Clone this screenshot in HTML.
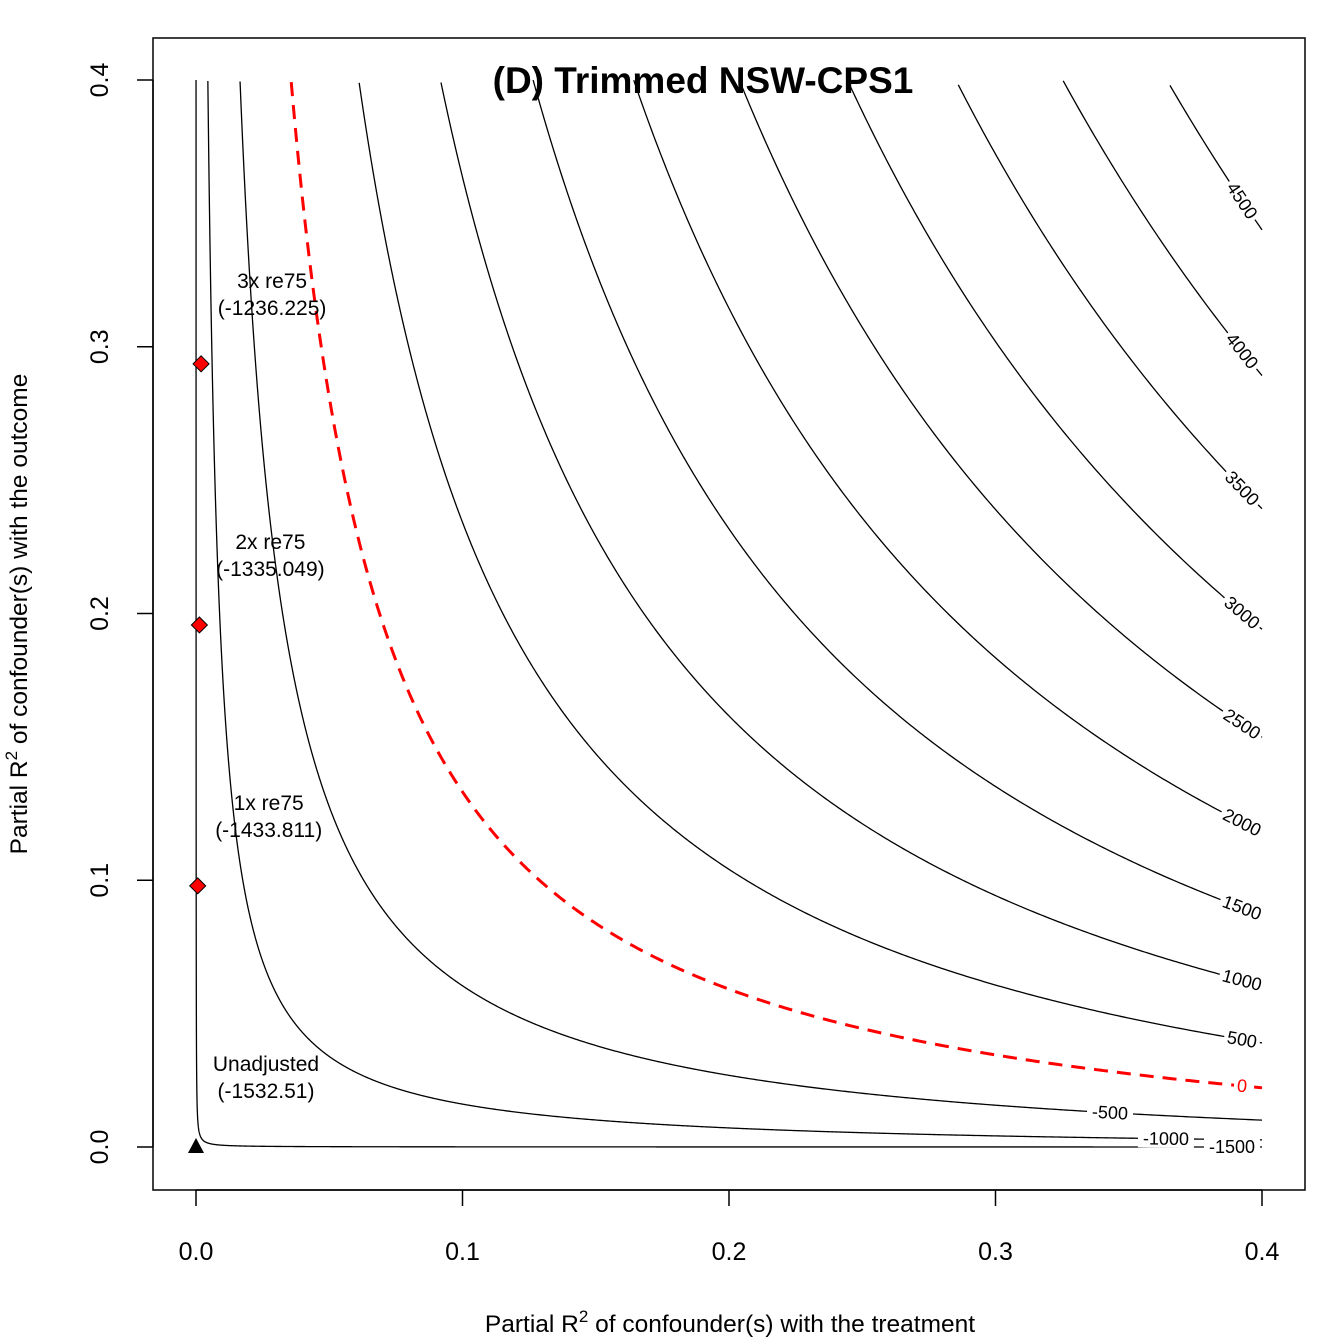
<!DOCTYPE html>
<html><head><meta charset="utf-8"><style>
body{margin:0;background:#fff}
svg{display:block;font-family:"Liberation Sans",Arial,sans-serif}
</style></head><body>
<svg id="chart" width="1344" height="1344" viewBox="0 0 1344 1344">
<rect width="1344" height="1344" fill="#fff"/>
<g id="contours"></g>
<g id="labels"></g>
<g id="points"></g>
<rect x="153" y="38" width="1152" height="1152" fill="none" stroke="#000" stroke-width="1.5"/>
<g id="axes"></g>
<text x="703" y="93" text-anchor="middle" font-size="37" font-weight="bold">(D) Trimmed NSW-CPS1</text>
<text x="730" y="1332" text-anchor="middle" font-size="24.5">Partial R<tspan dy="-10" font-size="17">2</tspan><tspan dy="10"> of confounder(s) with the treatment</tspan></text>
<text transform="translate(27,614) rotate(-90)" text-anchor="middle" font-size="24.5">Partial R<tspan dy="-10" font-size="17">2</tspan><tspan dy="10"> of confounder(s) with the outcome</tspan></text>
</svg>
<script>
const estimate = -1532.51;
const scaleK = 12600;
const levels = [-1500,-1000,-500,0,500,1000,1500,2000,2500,3000,3500,4000,4500];
const xTicks = [0.0,0.1,0.2,0.3,0.4];
const yTicks = [0.0,0.1,0.2,0.3,0.4];
const boundNames = ["1x re75","2x re75","3x re75"];
const boundValues = [-1433.811,-1335.049,-1236.225];
const boundRd = [0.00064,0.00127,0.00191];
const boundRy = [0.0979,0.1957,0.2936];

const NS="http://www.w3.org/2000/svg";
const X=v=>196+v*2665, Y=v=>1147-v*2667.5;
function mk(t,a,p){const e=document.createElementNS(NS,t);for(const k in a)e.setAttribute(k,a[k]);p.appendChild(e);return e;}
const gC=document.getElementById('contours'),gL=document.getElementById('labels'),gP=document.getElementById('points'),gA=document.getElementById('axes');
const ryOf=(L,rd)=>Math.pow((L-estimate)/scaleK,2)*(1-rd)/rd;
levels.forEach(L=>{
  const pts=[];
  for(let i=0;i<=4000;i++){const rd=1e-6*Math.pow(0.4/1e-6,i/4000);const ry=ryOf(L,rd);if(ry<=0.4)pts.push(X(rd).toFixed(2)+','+Y(ry).toFixed(2));}
  const red=L===0;
  const p=mk('polyline',{points:pts.join(' '),fill:'none',stroke:red?'#f00':'#000','stroke-width':red?3:1.3,'stroke-dasharray':red?'14,9':'none'},gC);
  
  
  let px=1242; if(L===-500)px=1110; if(L===-1000)px=1166; if(L===-1500)px=1232;
  const rd=(px-196)/2665, ry=ryOf(L,rd);
  const x1=X(rd-0.002),y1=Y(ryOf(L,rd-0.002)),x2=X(rd+0.002),y2=Y(ryOf(L,rd+0.002));
  let ang=Math.atan2(y2-y1,x2-x1)*180/Math.PI;
  const cx=X(rd),cy=Y(ry);
  const g=mk('g',{transform:`translate(${cx},${cy}) rotate(${ang})`},gL);
  
  
  const w=String(L).length*10+6;
  mk('rect',{x:-w/2,y:-9,width:w,height:18,fill:'#fff'},g);
  const t=mk('text',{x:0,y:6,'text-anchor':'middle','font-size':18,fill:red?'#f00':'#000'},g);
  t.textContent=String(L);
});
xTicks.forEach(v=>{
  const l=mk('line',{x1:X(v),x2:X(v),y1:1190,y2:1206,stroke:'#000','stroke-width':1.5},gA);
  
  const t=mk('text',{x:X(v),y:1260,'text-anchor':'middle','font-size':25},gA);t.textContent=v.toFixed(1);
  
});
mk('line',{x1:X(0),x2:X(0.4),y1:1190,y2:1190,stroke:'#000','stroke-width':1.5},gA);
yTicks.forEach(v=>{
  const l=mk('line',{x1:137,x2:153,y1:Y(v),y2:Y(v),stroke:'#000','stroke-width':1.5},gA);
  
  const t=mk('text',{transform:`translate(108,${Y(v)}) rotate(-90)`,'text-anchor':'middle','font-size':25},gA);t.textContent=v.toFixed(1);
  
});
mk('line',{x1:153,x2:153,y1:Y(0),y2:Y(0.4),stroke:'#000','stroke-width':1.5},gA);
const tri=mk('polygon',{points:`${X(0)},${Y(0)-9} ${X(0)-8},${Y(0)+6} ${X(0)+8},${Y(0)+6}`,fill:'#000'},gP);

[["Unadjusted",1071],["(-1532.51)",1098]].forEach(([s,y])=>{const t=mk('text',{x:266,y:y,'text-anchor':'middle','font-size':21},gP);t.textContent=s;});
boundNames.forEach((n,i)=>{
  const cx=X(boundRd[i]),cy=Y(boundRy[i]);
  const d=mk('polygon',{points:`${cx},${cy-8} ${cx+8},${cy} ${cx},${cy+8} ${cx-8},${cy}`,fill:'#f00',stroke:'#000','stroke-width':1},gP);
  
  const t1=mk('text',{x:cx+71,y:cy-76,'text-anchor':'middle','font-size':21},gP);t1.textContent=n;
  const t2=mk('text',{x:cx+71,y:cy-49,'text-anchor':'middle','font-size':21},gP);t2.textContent='('+boundValues[i].toFixed(3)+')';
});
</script>
</body></html>
